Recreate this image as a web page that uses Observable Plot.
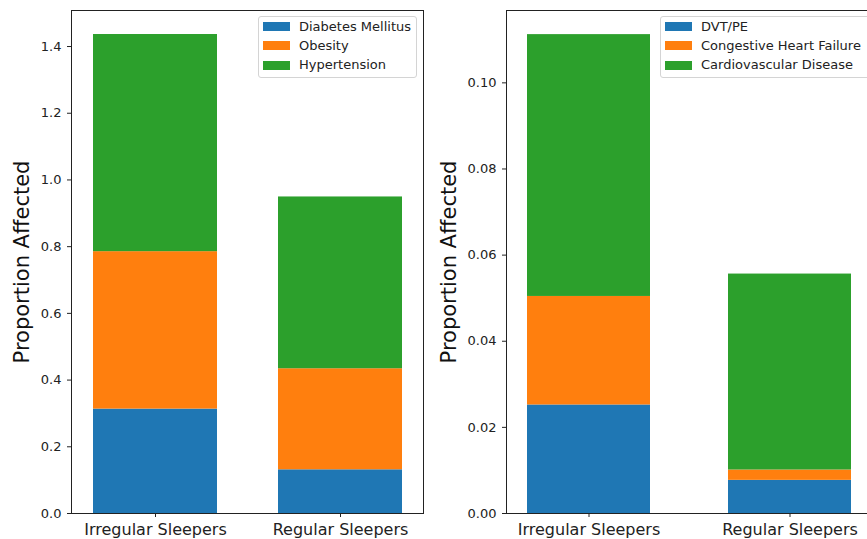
<!DOCTYPE html>
<html><head><meta charset="utf-8">
<script src="https://cdn.jsdelivr.net/npm/d3@7"></script>
<script src="https://cdn.jsdelivr.net/npm/@observablehq/plot@0.6"></script>
<style>
html,body{margin:0;padding:0;background:#fff;overflow:hidden;}
#wrap{position:relative;width:867px;height:539px;overflow:hidden;font-family:"DejaVu Sans",sans-serif;}
.panel{position:absolute;top:0;}
.legend{position:absolute;top:16px;height:62px;box-sizing:border-box;border:1px solid #d4d4d4;border-radius:3px;background:rgba(255,255,255,0.8);}
.lg-h{position:absolute;width:27px;height:9px;}
.lg-t{position:absolute;font-size:13px;line-height:16px;color:#222;white-space:nowrap;}
</style></head><body><div id="wrap"></div>
<script>
const categories = ["Irregular Sleepers", "Regular Sleepers"];
const yLabel = "Proportion Affected";
const metabolicSeries = ["Diabetes Mellitus", "Obesity", "Hypertension"];
const diabetesMellitus = [0.313, 0.131];
const obesity = [0.472, 0.303];
const hypertension = [0.651, 0.515];
const cardioSeries = ["DVT/PE", "Congestive Heart Failure", "Cardiovascular Disease"];
const dvtPe = [0.0252, 0.0077];
const congestiveHeartFailure = [0.0252, 0.0024];
const cardiovascularDisease = [0.0608, 0.0455];
const leftTicks = [0, 0.2, 0.4, 0.6, 0.8, 1.0, 1.2, 1.4];
const rightTicks = [0, 0.02, 0.04, 0.06, 0.08, 0.10];
const colors = ["#1f77b4", "#ff7f0e", "#2ca02c"];

function toRows(series, arrays) {
  return series.flatMap((s, i) => categories.map((c, j) => ({category: c, series: s, value: arrays[i][j]})));
}

function panel(o) {
  return Plot.plot({
    width: o.width, height: 539,
    marginTop: 10, marginBottom: 26, marginLeft: o.marginLeft, marginRight: o.marginRight,
    style: {fontFamily: '"DejaVu Sans", sans-serif', fontSize: "13px", color: "#222", background: "transparent", overflow: "visible"},
    x: {domain: categories, paddingInner: o.paddingInner, paddingOuter: o.paddingOuter, label: null},
    y: {domain: [0, o.yMax], label: null},
    color: {domain: o.series, range: colors},
    marks: [
      Plot.barY(o.rows, {x: "category", y: "value", fill: "series"}),
      Plot.frame({stroke: "#222", strokeWidth: 1}),
      Plot.axisY({ticks: o.ticks, tickFormat: o.fmt, tickSize: 4, tickPadding: 6, fontSize: 13, label: null, stroke: "#222"}),
      Plot.axisX({tickSize: 4, tickPadding: 6, fontSize: 16, label: null, stroke: "#222"}),
      Plot.text([yLabel], {text: d => d, frameAnchor: "left", rotate: -90, dx: o.labelDx, fontSize: 21, textAnchor: "middle", lineAnchor: "middle", fill: "#111"})
    ]
  });
}

function legend(left, width, series) {
  const box = document.createElement("div");
  box.className = "legend";
  box.style.left = left + "px";
  box.style.width = width + "px";
  const rowsY = [10.7, 29.8, 49];
  series.forEach((s, i) => {
    const h = document.createElement("div");
    h.className = "lg-h";
    h.style.left = "3.5px";
    h.style.top = (rowsY[i] - 1 - 4.5) + "px";
    h.style.background = colors[i];
    box.appendChild(h);
    const t = document.createElement("div");
    t.className = "lg-t";
    t.style.left = "40px";
    t.style.top = (rowsY[i] - 1 - 8) + "px";
    t.textContent = s;
    box.appendChild(t);
  });
  return box;
}

const wrap = document.getElementById("wrap");
const left = panel({rows: toRows(metabolicSeries, [diabetesMellitus, obesity, hypertension]), series: metabolicSeries,
  yMax: 1.508, ticks: leftTicks, fmt: d3.format(".1f"), width: 440, marginLeft: 71, marginRight: 17,
  paddingInner: 0.331, paddingOuter: 0.112, labelDx: -49});
left.classList.add("panel"); left.style.left = "0px";
const right = panel({rows: toRows(cardioSeries, [dvtPe, congestiveHeartFailure, cardiovascularDisease]), series: cardioSeries,
  yMax: 0.1168, ticks: rightTicks, fmt: d3.format(".2f"), width: 432, marginLeft: 66, marginRight: 0,
  paddingInner: 0.386, paddingOuter: 0.103, labelDx: -57});
right.classList.add("panel"); right.style.left = "440px";
wrap.appendChild(left);
wrap.appendChild(right);
wrap.appendChild(legend(258, 159, metabolicSeries));
wrap.appendChild(legend(660, 220, cardioSeries));
</script>
</body></html>
